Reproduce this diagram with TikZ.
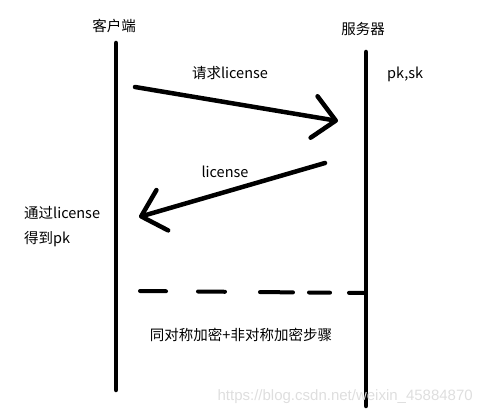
\documentclass[tikz,border=0pt]{standalone}
\usepackage{fontspec}
\setmainfont{Noto Sans CJK SC}
\newfontfamily\wmfont{Liberation Sans}
\usetikzlibrary{arrows.meta,positioning}

\begin{document}
\begin{tikzpicture}[x=1pt,y=-1pt,
  lifeline/.style={line width=4.5pt, line cap=round},
  msg/.style={line width=4.5pt, line cap=round, -{Straight Barb[length=22pt,width=42pt,line cap=round,line join=round]}},
  sepline/.style={line width=4pt, line cap=round, dash pattern=on 26pt off 32pt on 27pt off 35pt on 33pt off 16pt on 21pt off 19pt on 40pt},
  lbl/.style={inner sep=1pt, font=\fontsize{14.5}{17}\selectfont}]
\useasboundingbox (0,0) rectangle (482,414);

% lifelines
\node[lbl] (client) at (114,26) {客户端};
\node[lbl] (server) at (363,29) {服务器};
\coordinate (c0) at (116,43);
\coordinate (c1) at (116,390);
\coordinate (s0) at (366,52);
\coordinate (s1) at (366,406);
\draw[lifeline] (c0) -- (c1);
\draw[lifeline] (s0) -- (s1);

\node[lbl, anchor=west] (keys) at (386,74) {pk,sk};

% request
\coordinate (req0) at (135,87);
\coordinate (req1) at (338,121);
\draw[msg] (req0) -- (req1);
\node[lbl] (reqlbl) at (230,73) {请求license};

% answer
\coordinate (ans0) at (325,163);
\coordinate (ans1) at (139,217);
\draw[msg] (ans0) -- (ans1);
\node[lbl] (anslbl) at (225,172) {license};

\node[lbl, anchor=west] (got1) at (23,213) {通过license};
\node[lbl, anchor=west] (got2) at (23,239) {得到pk};

% later steps
\coordinate (d0) at (140,291);
\coordinate (d1) at (364,293);
\draw[sepline] (d0) -- (d1);
\node[lbl] (steps) at (241,335) {同对称加密+非对称加密步骤};

\node[inner sep=0pt, anchor=east, text=black!13, font=\wmfont\fontsize{15}{18}\selectfont] (mark) at (473,397) {https://blog.csdn.net/weixin\_45884870};
\end{tikzpicture}
\end{document}
